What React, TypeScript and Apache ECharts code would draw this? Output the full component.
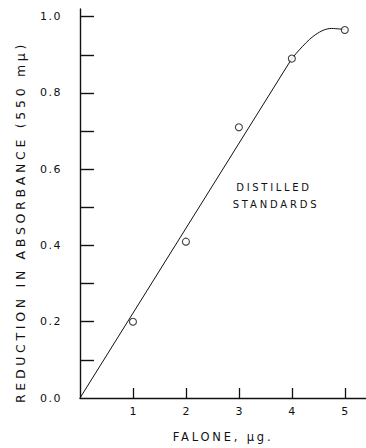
import React, { useEffect, useRef } from "react";
import * as echarts from "echarts";

// Data
const falone = [1, 2, 3, 4, 5];
const reduction = [0.2, 0.41, 0.71, 0.89, 0.965];
// fitted curve: straight part then the bend near the top
const fitLine = [
  [0, 0],
  [4, 0.89],
];
const fitCurve = [
  [4, 0.89],
  [4.4, 0.948],
  [4.75, 0.969],
  [5, 0.966],
];
const xTicks = [1, 2, 3, 4, 5];
const yTicks = [0.1, 0.2, 0.3, 0.4, 0.5, 0.6, 0.7, 0.8, 0.9, 1.0];
const yLabels = [0, 0.2, 0.4, 0.6, 0.8, 1.0];

const FONT = "'DejaVu Sans', sans-serif";

export default function App() {
  const ref = useRef<HTMLDivElement>(null);
  useEffect(() => {
    document.body.style.margin = "0";
    const chart = echarts.init(ref.current!, null, { renderer: "svg" });
    chart.setOption({
      animation: false,
      backgroundColor: "#fff",
      grid: { left: 80, right: 0, top: 9, bottom: 43 },
      xAxis: {
        type: "value",
        min: 0,
        max: 5.4,
        name: "FALONE, μg.",
        nameLocation: "middle",
        nameGap: 33,
        nameTextStyle: { fontFamily: FONT, fontSize: 11.5, color: "#111" },
        splitLine: { show: false },
        axisLine: { lineStyle: { color: "#111", width: 1.4 } },
        axisTick: {
          inside: true,
          length: 10,
          customValues: xTicks,
          lineStyle: { color: "#111", width: 1.3 },
        },
        axisLabel: {
          customValues: xTicks,
          margin: 8,
          fontFamily: FONT,
          fontSize: 11,
          color: "#111",
        },
      },
      yAxis: {
        type: "value",
        min: 0,
        max: 1.02,
        splitLine: { show: false },
        axisLine: { show: true, lineStyle: { color: "#111", width: 1.4 } },
        axisTick: {
          show: true,
          inside: true,
          length: 14,
          customValues: yTicks,
          lineStyle: { color: "#111", width: 1.4 },
        },
        axisLabel: {
          customValues: yLabels,
          margin: 18,
          fontFamily: FONT,
          fontSize: 11,
          color: "#111",
          formatter: (v: number) => v.toFixed(1),
        },
      },
      graphic: [
        {
          type: "text",
          x: 20,
          y: 222,
          rotation: Math.PI / 2,
          style: {
            text: "REDUCTION IN ABSORBANCE (550 mμ)",
            font: `12.5px ${FONT}`,
            fill: "#111",
            textAlign: "center",
            textVerticalAlign: "middle",
          },
        },
        {
          type: "text",
          x: 274,
          y: 187,
          style: {
            text: "DISTILLED",
            font: `10px ${FONT}`,
            fill: "#111",
            textAlign: "center",
            textVerticalAlign: "middle",
          },
        },
        {
          type: "text",
          x: 276,
          y: 204,
          style: {
            text: "STANDARDS",
            font: `10px ${FONT}`,
            fill: "#111",
            textAlign: "center",
            textVerticalAlign: "middle",
          },
        },
      ],
      series: [
        {
          type: "line",
          data: fitLine,
          showSymbol: false,
          lineStyle: { color: "#111", width: 1 },
          silent: true,
        },
        {
          type: "line",
          data: fitCurve,
          smooth: 0.35,
          showSymbol: false,
          lineStyle: { color: "#111", width: 1 },
          silent: true,
        },
        {
          type: "scatter",
          data: falone.map((x, i) => [x, reduction[i]]),
          symbol: "circle",
          symbolSize: 7,
          itemStyle: { color: "#fff", borderColor: "#111", borderWidth: 1.1 },
          z: 5,
        },
      ],
    });
    const spacing: Record<string, number> = {
      "REDUCTION IN ABSORBANCE (550 mμ)": 3.7,
      "DISTILLED": 2.7,
      "STANDARDS": 2.8,
      "FALONE, μg.": 2.8,
    };
    ref.current!.querySelectorAll("text").forEach((t) => {
      const s = (t.textContent || "").trim();
      if (spacing[s] !== undefined) {
        (t as SVGTextElement).style.letterSpacing = spacing[s] + "px";
      } else if (/^\d\.\d$/.test(s)) {
        (t as SVGTextElement).style.letterSpacing = "1.5px";
      }
    });
    return () => chart.dispose();
  }, []);
  return <div ref={ref} style={{ width: 366, height: 448 }} />;
}
